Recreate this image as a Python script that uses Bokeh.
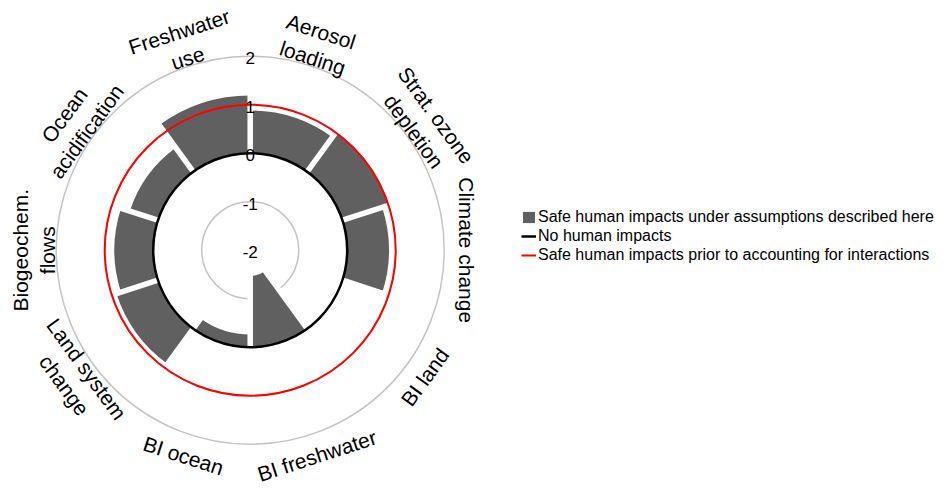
import numpy as np
from bokeh.plotting import figure
from bokeh.models import Range1d, Legend, LegendItem
from bokeh.embed import file_html
from bokeh.resources import INLINE
from bokeh.core.properties import value

# ---------------- data ----------------
categories = ["Aerosol\nloading", "Strat. ozone\ndepletion", "Climate change", "BI land",
              "BI freshwater", "BI ocean", "Land system\nchange", "Biogeochem.\nflows",
              "Ocean\nacidification", "Freshwater\nuse"]
safe_values = [0.88, 1.0, 0.86, 0.0, -1.47, -0.26, 0.90, 0.80, 0.61, 1.19]
no_impact_value = 0
prior_safe_value = 1
ticks = [2, 1, 0, -1, -2]
tick_labels = ["2", "1", "0", "-1", "-2"]
legend_labels = ["Safe human impacts under assumptions described here",
                 "No human impacts",
                 "Safe human impacts prior to accounting for interactions"]

# ---------------- layout constants ----------------
R_MIN = -2          # value at the centre
UNIT = 48.5         # px per value unit
W, H = 944, 488
CX, CY = 249.7, 249.7   # centre in figure px (from top-left)
LABEL_R = 216 / UNIT
FONT = "Liberation Sans"
BAR_COLOR = "#606060"

x0r = -CX / UNIT
y1r = CY / UNIT
p = figure(width=W, height=H,
           x_range=Range1d(x0r, x0r + W / UNIT),
           y_range=Range1d(y1r - H / UNIT, y1r),
           x_axis_location=None, y_axis_location=None,
           toolbar_location=None, output_backend="svg",
           min_border=0, outline_line_color=None)
p.grid.grid_line_color = None
p.background_fill_color = "white"

n = len(categories)
step = 2 * np.pi / n
k = np.arange(n)
start = np.pi / 2 - (k + 1) * step
end = np.pi / 2 - k * step
inner = np.array([min(0, v) - R_MIN for v in safe_values])
outer = np.array([max(0, v) - R_MIN for v in safe_values])

# grid circles (grey)
grid_r = [t - R_MIN for t in ticks if t > R_MIN]
p.arc(x=0, y=0, radius=grid_r, start_angle=0, end_angle=2 * np.pi,
      line_color="#c4c4c4", line_width=1.5)

# bars
bars = p.annular_wedge(x=0, y=0, inner_radius=inner, outer_radius=outer,
                       start_angle=start, end_angle=end,
                       fill_color=BAR_COLOR, line_color=None)

# white separating gaps between bars
phi = np.pi / 2 - k * step
prev = (k - 1) % n
r0 = np.minimum(inner[prev], inner) - 0.03
r1 = np.maximum(outer[prev], outer) + 0.03
p.segment(x0=r0 * np.cos(phi), y0=r0 * np.sin(phi),
          x1=r1 * np.cos(phi), y1=r1 * np.sin(phi),
          line_color="white", line_width=5.5, line_cap="butt")

# reference circles
black = p.arc(x=0, y=0, radius=no_impact_value - R_MIN, start_angle=0, end_angle=2 * np.pi,
              line_color="black", line_width=2.5)
red = p.arc(x=0, y=0, radius=prior_safe_value - R_MIN, start_angle=0, end_angle=2 * np.pi,
            line_color="#ff0000", line_width=2)

# radial tick labels
p.text(x=[0] * len(ticks), y=[t - R_MIN for t in ticks], text=tick_labels,
       text_align="center", text_baseline="middle", y_offset=2,
       text_font=value(FONT), text_font_size="17px", text_color="black")

# category labels
theta = (k + 0.5) * step
deg = np.degrees(theta)
rot = np.where(deg <= 90, -deg, np.where(deg < 270, 180 - deg, 360 - deg))
p.text(x=LABEL_R * np.sin(theta), y=LABEL_R * np.cos(theta), text=categories,
       angle=np.radians(rot), text_align="center", text_baseline="middle",
       text_font=value(FONT), text_font_size="21px", text_color="black")

legend = Legend(items=[LegendItem(label=legend_labels[0], renderers=[bars]),
                       LegendItem(label=legend_labels[1], renderers=[black]),
                       LegendItem(label=legend_labels[2], renderers=[red])],
                location=(521, 224),
                label_text_font=FONT, label_text_font_size="16px",
                label_text_color="black",
                glyph_width=15, glyph_height=14, label_height=16,
                label_standoff=2, spacing=1, padding=0, margin=0,
                border_line_color=None, background_fill_alpha=0)
p.add_layout(legend)

open("out.html", "w").write(file_html(p, INLINE))
